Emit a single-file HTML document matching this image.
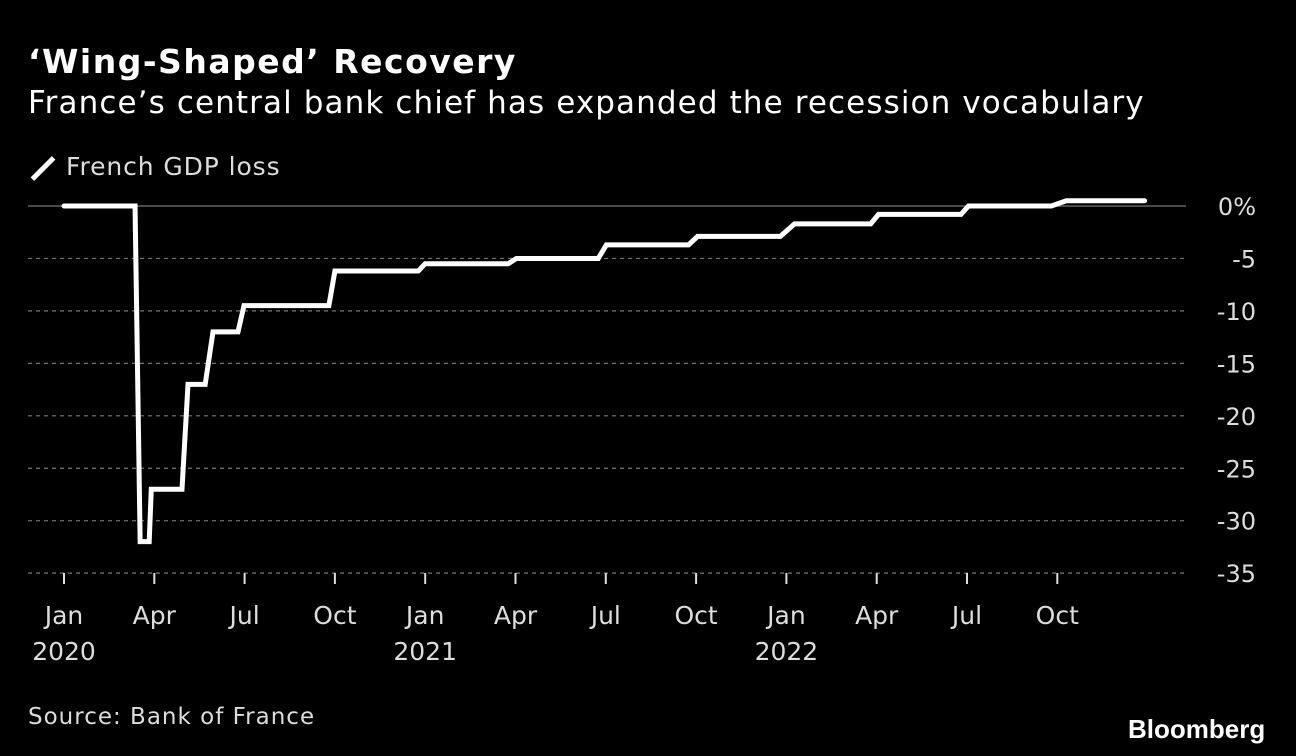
<!DOCTYPE html>
<html><head><meta charset="utf-8"><style>
html,body{margin:0;padding:0;background:#000;}
body{width:1296px;height:756px;overflow:hidden;position:relative;font-family:"DejaVu Sans","Liberation Sans",sans-serif;color:#fff;}
.t{position:absolute;white-space:nowrap;}
</style></head><body>
<div class="t" style="left:28px;top:42px;font-size:33px;font-weight:bold;letter-spacing:1.5px;">‘Wing-Shaped’ Recovery</div>
<div class="t" style="left:28px;top:85px;font-size:31px;letter-spacing:1.1px;">France’s central bank chief has expanded the recession vocabulary</div>
<div class="t" style="left:28px;top:152px;font-size:25px;color:#ddd;letter-spacing:0.9px;"><span style="display:inline-block;width:30px;height:5px;background:#fff;transform:rotate(-45deg);vertical-align:middle;margin-right:8px;"></span>French GDP loss</div>
<div class="t" style="left:28px;top:704px;font-size:23px;color:#ddd;letter-spacing:1px;">Source: Bank of France</div>
<div class="t" style="left:1128px;top:714px;font-size:26px;font-weight:bold;font-family:'Liberation Sans',sans-serif;">Bloomberg</div>
<svg id="chart" width="1296" height="756" style="position:absolute;left:0;top:0;"></svg>
<script>
const yTicks=[0,-5,-10,-15,-20,-25,-30,-35];
const yTickLabels=["0%","-5","-10","-15","-20","-25","-30","-35"];
const xTickMonths=[0,3,6,9,12,15,18,21,24,27,30,33];
const xTickLabels=["Jan","Apr","Jul","Oct","Jan","Apr","Jul","Oct","Jan","Apr","Jul","Oct"];
const xTickYears=["2020","","","","2021","","","","2022","","",""];
const seriesMonths=[0,2.36,2.53,2.83,2.9,3.92,4.12,4.69,4.95,5.78,5.98,8.8,9.0,11.77,12.0,14.76,15.03,17.75,18.02,20.75,21.05,23.8,24.27,26.8,27.06,29.8,30.05,32.8,33.3,35.9];
const seriesValues=[0,0,-32,-32,-27,-27,-17,-17,-12,-12,-9.5,-9.5,-6.2,-6.2,-5.5,-5.5,-5,-5,-3.7,-3.7,-2.9,-2.9,-1.7,-1.7,-0.8,-0.8,0,0,0.5,0.5];
const NS="http://www.w3.org/2000/svg";
const svg=document.getElementById('chart');
const x=m=>64+m*30.1;
const y=v=>206-v*10.49;
function mk(t,a){const e=document.createElementNS(NS,t);for(const k in a)e.setAttribute(k,a[k]);svg.appendChild(e);return e;}
yTicks.forEach((v,i)=>{
 const l=mk('line',{x1:28,x2:1186,y1:y(v),y2:y(v),stroke:'#777','stroke-width':1.2,'stroke-dasharray':v===0?'':'4,4'});
 
 
 const t=mk('text',{x:1256,y:y(v)+9,'text-anchor':'end',fill:'#ddd','font-size':24});
 t.textContent=yTickLabels[i];
 
 
});
xTickMonths.forEach((m,i)=>{
 const l=mk('line',{x1:x(m),x2:x(m),y1:573,y2:584,stroke:'#ddd','stroke-width':2});
 
 
 const t=mk('text',{x:x(m),y:624,'text-anchor':'middle',fill:'#ddd','font-size':25});
 t.textContent=xTickLabels[i];
 
 
 if(xTickYears[i]){const t2=mk('text',{x:x(m),y:660,'text-anchor':'middle',fill:'#ddd','font-size':25});
 t2.textContent=xTickYears[i];
 
 }
});
const pts=seriesMonths.map((m,i)=>x(m)+','+y(seriesValues[i])).join(' ');
const p=mk('polyline',{points:pts,fill:'none',stroke:'#fff','stroke-width':5,'stroke-linejoin':'miter','stroke-linecap':'round'});


</script>
</body></html>
